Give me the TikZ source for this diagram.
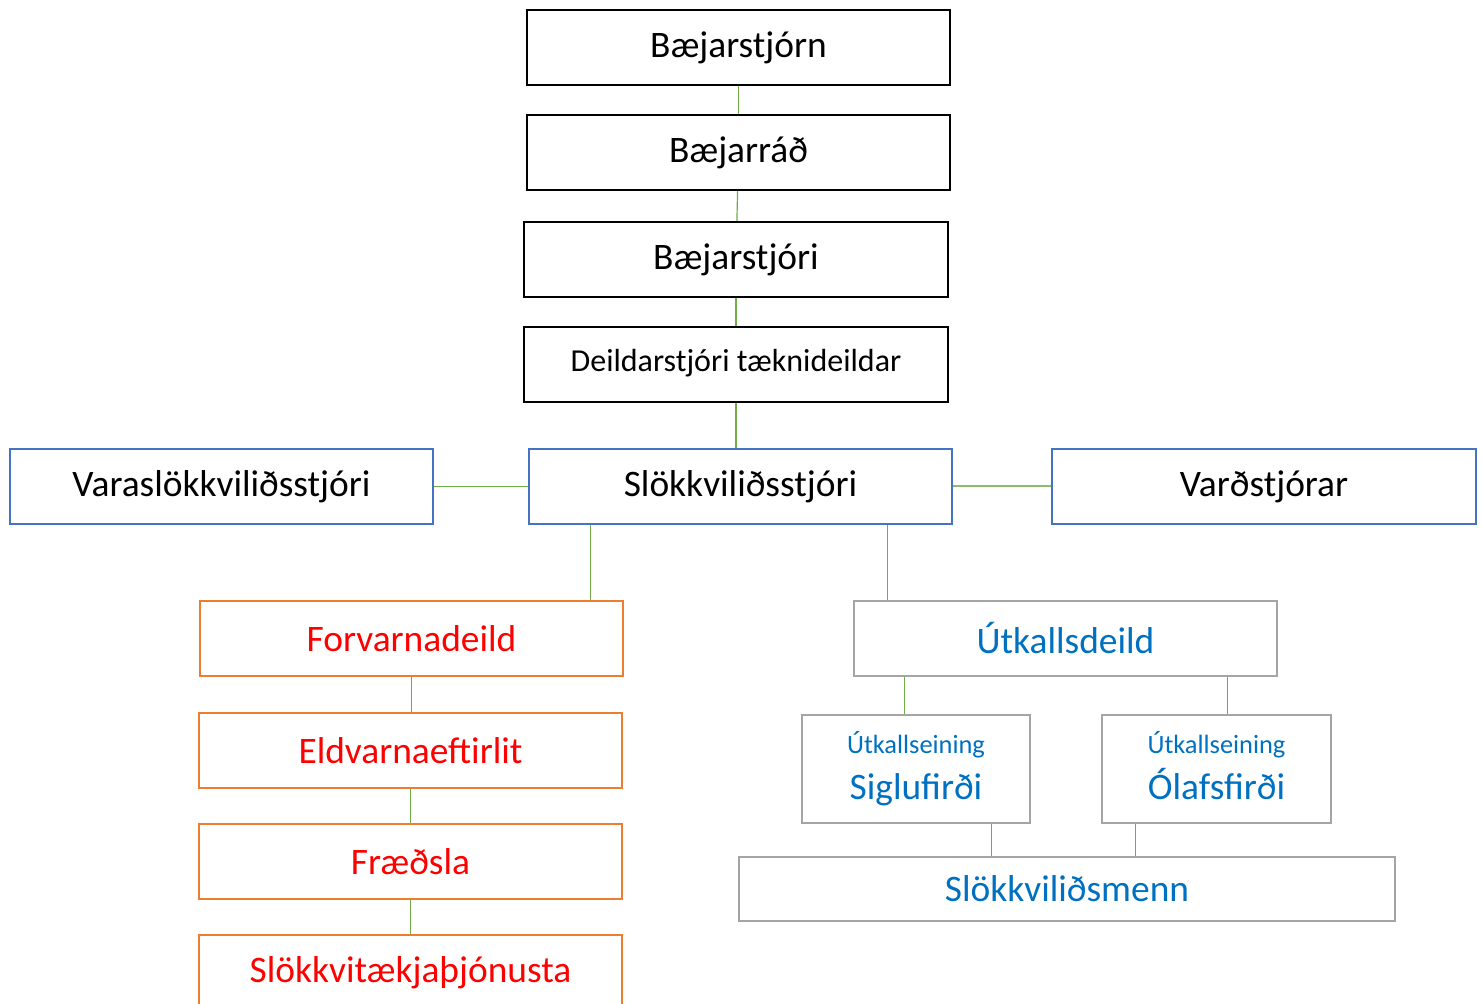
\documentclass[tikz,border=0pt]{standalone}
\usepackage{fontspec}
\setmainfont{Carlito}
\usepackage{xcolor}
\definecolor{blar}{HTML}{4472C4}
\definecolor{appels}{HTML}{ED7D31}
\definecolor{grar}{HTML}{A5A5A5}
\definecolor{graenn}{HTML}{70AD47}
\definecolor{textblar}{HTML}{0070C0}
\tikzset{
  kassi/.style={draw, line width=1.2pt, fill=white, inner sep=0pt,
    minimum height=37.5pt, minimum width=211.5pt, align=center,
    font=\fontsize{18.7}{22}\selectfont},
  stjorn/.style={kassi, draw=black},
  slokk/.style={kassi, draw=blar},
  forvarnir/.style={kassi, draw=appels, text=red},
  utkall/.style={kassi, draw=grar, text=textblar},
  tengi/.style={draw=graenn, line width=0.6pt}
}
\newcommand{\litid}[1]{{\fontsize{13.2}{16}\selectfont #1}}

\begin{document}
\begin{tikzpicture}[x=0.5pt, y=-0.5pt]
\useasboundingbox (0,0) rectangle (1482,1004);

% efsta stjorn
\node[stjorn] (bstjorn) at (738.5,47.5) {Bæjarstjórn};
\node[stjorn] (brad) at (738.5,152.5) {Bæjarráð};
\node[stjorn, minimum width=212pt] (bstjori) at (736,259.5) {Bæjarstjóri};
\node[stjorn, minimum width=212pt, font=\fontsize{16}{19}\selectfont] (deild) at (736,364.5) {\raisebox{4.5pt}{Deildarstjóri tæknideildar}};

% slokkvilid
\node[slokk] (vara) at (221.5,486.5) {Varaslökkviliðsstjóri};
\node[slokk] (stjori) at (740.5,486.5) {Slökkviliðsstjóri};
\node[slokk, minimum width=212pt] (vard) at (1264,486.5) {Varðstjórar};

% forvarnadeild
\node[forvarnir] (forv) at (411.5,638.5) {Forvarnadeild};
\node[forvarnir] (eldv) at (410.5,750.5) {Eldvarnaeftirlit};
\node[forvarnir] (fraedsla) at (410.5,861.5) {Fræðsla};
\node[forvarnir] (taeki) at (410.5,972.5) {Slökkvitækjaþjónusta};

% utkallsdeild
\node[utkall] (utk) at (1065.5,638.5) {Útkallsdeild};
\node[utkall, minimum width=114pt, minimum height=54pt] (sigl) at (916,769) {\litid{Útkallseining}\\[1pt]\vphantom{Óg}Siglufirði};
\node[utkall, minimum width=114.5pt, minimum height=54pt] (olaf) at (1216.5,769) {\litid{Útkallseining}\\[1pt]\vphantom{Óg}Ólafsfirði};
\node[utkall, minimum width=328pt, minimum height=32pt] (menn) at (1067,889) {Slökkviliðsmenn};

% tengingar
\coordinate (s1) at ([xshift=31.5pt]stjori.south west);
\coordinate (s2) at ([xshift=180pt]stjori.south west);
\coordinate (u1) at ([xshift=26pt]utk.south west);
\coordinate (u2) at ([xshift=187.5pt]utk.south west);
\coordinate (m1) at ([xshift=95.5pt]sigl.south west);
\coordinate (m2) at ([xshift=17.5pt]olaf.south west);

\draw[tengi] (bstjorn) -- (brad);
\draw[tengi] (brad) -- (bstjori);
\draw[tengi] (bstjori) -- (deild);
\draw[tengi] (deild.south) -- (deild.south |- stjori.north);
\draw[tengi] (vara) -- (stjori);
\draw[tengi, draw=graenn!80, line width=1pt] (stjori) -- (vard);
\draw[tengi] (s1) -- (s1 |- forv.north);
\draw[tengi] (s2) -- (s2 |- utk.north);
\draw[tengi] (forv.south) -- (forv.south |- eldv.north);
\draw[tengi] (eldv) -- (fraedsla);
\draw[tengi] (fraedsla) -- (taeki);
\draw[tengi] (u1) -- (u1 |- sigl.north);
\draw[tengi] (u2) -- (u2 |- olaf.north);
\draw[tengi] (m1) -- (m1 |- menn.north);
\draw[tengi] (m2) -- (m2 |- menn.north);
\end{tikzpicture}
\end{document}
